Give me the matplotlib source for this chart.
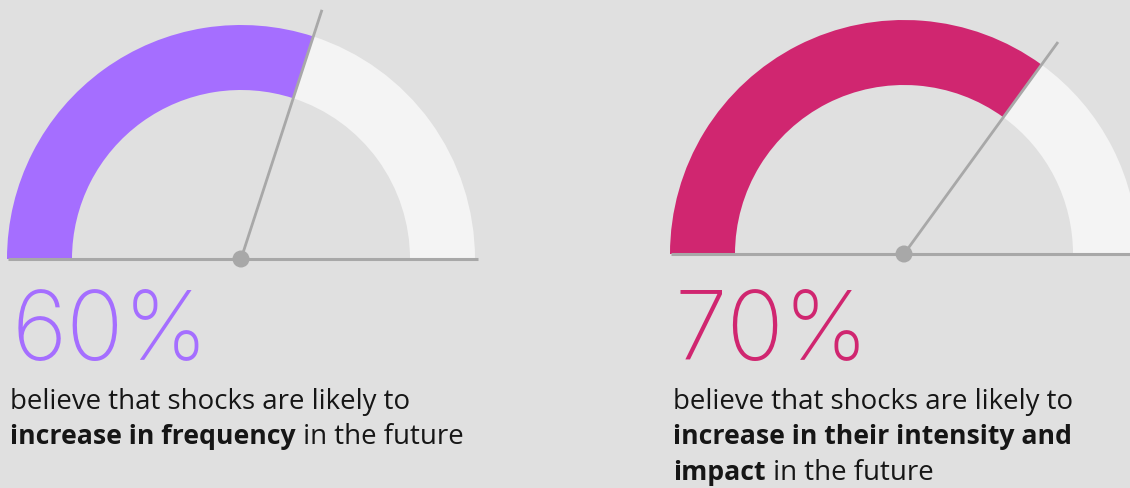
import matplotlib
matplotlib.use("Agg")
import matplotlib.pyplot as plt
from matplotlib.patches import Wedge, Circle
from matplotlib import font_manager as fm
from matplotlib.font_manager import FontProperties
import numpy as np

# ---------------- data ----------------
values = [60, 70]
value_labels = ["60%", "70%"]
colors = ["#a56eff", "#d02670"]
caption_left = [
    [("believe that shocks are likely to", False)],
    [("increase in frequency", True), (" in the future", False)],
]
caption_right = [
    [("believe that shocks are likely to", False)],
    [("increase in their intensity and", True)],
    [("impact", True), (" in the future", False)],
]
captions = [caption_left, caption_right]

# ---------------- style ----------------
W, H = 1130, 488
BG = "#e0e0e0"
TRACK = "#f4f4f4"
GRAY = "#a8a8a8"
TEXT = "#161616"


def weight_num(w):
    if isinstance(w, (int, float)):
        return int(w)
    m = {"thin": 100, "hairline": 100, "extralight": 200, "ultralight": 200, "light": 300,
         "normal": 400, "regular": 400, "book": 400, "medium": 500, "semibold": 600,
         "demibold": 600, "bold": 700, "extrabold": 800, "heavy": 800, "black": 900}
    return m.get(str(w).lower(), 400)


def fonts_of(fam):
    return [f for f in fm.fontManager.ttflist
            if f.name == fam and f.style == "normal"
            and "italic" not in f.fname.lower() and "condensed" not in f.fname.lower()]


def pick_weight(fam, target):
    cands = fonts_of(fam)
    if not cands:
        return None
    best = min(cands, key=lambda f: abs(weight_num(f.weight) - target))
    if abs(weight_num(best.weight) - target) > 60:
        return None
    return best.fname


def first_available(families, target):
    for fam in families:
        p = pick_weight(fam, target)
        if p:
            return p
    return None


light_path = (first_available(["IBM Plex Sans", "Inter", "Roboto", "Open Sans", "Lato", "Noto Sans"], 200)
              or first_available(["Roboto", "Lato", "Open Sans", "Noto Sans", "Inter"], 300)
              or first_available(["Roboto", "Lato"], 100))

body_reg, body_bold = None, None
for fam in ["IBM Plex Sans", "Noto Sans", "Open Sans", "Roboto", "Lato", "Liberation Sans", "DejaVu Sans"]:
    r, b = pick_weight(fam, 400), pick_weight(fam, 700)
    if r and b:
        body_reg, body_bold = r, b
        break


def fp_from(path, size, fallback_weight="normal"):
    if path:
        p = FontProperties(fname=path)
    else:
        p = FontProperties(family="DejaVu Sans", weight=fallback_weight)
    p.set_size(size)
    return p


fig = plt.figure(figsize=(W / 100, H / 100), dpi=100, facecolor=BG)
ax = fig.add_axes([0, 0, 1, 1])
ax.set_xlim(0, W)
ax.set_ylim(0, H)
ax.set_facecolor(BG)
ax.axis("off")


def Y(y):
    return H - y


centers = [(241, 259), (904, 254)]
R_out, R_in = 234, 169
needle_len = 262
line_spans = [(8, 478), (671, 1135)]
num_x = [12, 674]
cap_x = [10, 673]
cap_baselines = [409, 444, 480]

fig.canvas.draw()
renderer = fig.canvas.get_renderer()


def text_width(s, fp):
    t = ax.text(0, 0, s, fontproperties=fp)
    bb = t.get_window_extent(renderer=renderer)
    t.remove()
    return bb.width


# fit body font size so first caption line spans ~400px
w0 = text_width(caption_left[0][0][0], fp_from(body_reg, 18))
body_size = 18 * 400 / w0
# fit bold size so "increase in frequency" spans ~286px
wb = text_width(caption_left[1][0][0], fp_from(body_bold, 18, "bold"))
bold_size = 18 * 286 / wb
# fit big number size so "60%" spans ~197px
w1 = text_width(value_labels[0], fp_from(light_path, 72, "light"))
num_size = 72 * 197 / w1

for i, v in enumerate(values):
    cx, cy = centers[i]
    cyd = Y(cy)
    split = 180 - v * 1.8
    ax.add_patch(Wedge((cx, cyd), R_out, split, 180, width=R_out - R_in,
                       facecolor=colors[i], edgecolor="none", zorder=2))
    ax.add_patch(Wedge((cx, cyd), R_out, 0, split, width=R_out - R_in,
                       facecolor=TRACK, edgecolor="none", zorder=2))
    x0, x1 = line_spans[i]
    ax.plot([x0, x1], [cyd, cyd], color=GRAY, lw=2.2, solid_capstyle="butt", zorder=3)
    a = np.deg2rad(split)
    ax.plot([cx, cx + needle_len * np.cos(a)], [cyd, cyd + needle_len * np.sin(a)],
            color=GRAY, lw=2.0, solid_capstyle="butt", zorder=4)
    ax.add_patch(Circle((cx, cyd), 8.5, facecolor=GRAY, edgecolor="none", zorder=5))

    ax.text(num_x[i], Y(360), value_labels[i], fontproperties=fp_from(light_path, num_size, "light"),
            color=colors[i], ha="left", va="baseline", zorder=6)

    for li, segs in enumerate(captions[i]):
        x = cap_x[i]
        for s, bold in segs:
            fp = fp_from(body_bold if bold else body_reg, bold_size if bold else body_size,
                         "bold" if bold else "normal")
            t = ax.text(x, Y(cap_baselines[li]), s, fontproperties=fp, color=TEXT,
                        ha="left", va="baseline", zorder=6)
            bb = t.get_window_extent(renderer=renderer)
            x += bb.width

fig.savefig("out.png", dpi=100, facecolor=BG)
